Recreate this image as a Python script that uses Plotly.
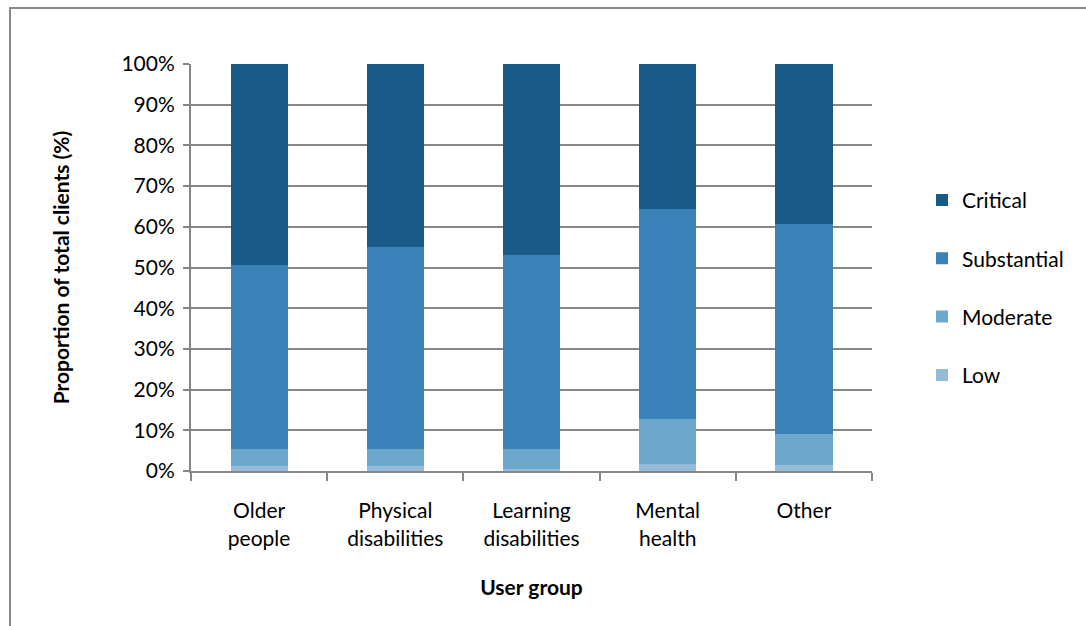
import plotly.graph_objects as go

categories = ["Older<br>people", "Physical<br>disabilities", "Learning<br>disabilities", "Mental<br>health", "Other"]
low = [1.2, 1.2, 0.6, 1.6, 1.4]
moderate = [4.1, 4.1, 4.7, 11.3, 7.8]
substantial = [45.4, 49.8, 47.8, 51.5, 51.5]
critical = [49.3, 44.9, 46.9, 35.6, 39.3]

series = [
    ("Low", low, "#95bbd6", 4),
    ("Moderate", moderate, "#6da7cc", 3),
    ("Substantial", substantial, "#3a82b7", 2),
    ("Critical", critical, "#1a5a88", 1),
]

FONT = "Lato"
FS = 21
fig = go.Figure()
for name, vals, col, rank in series:
    fig.add_trace(go.Bar(
        x=categories, y=[v / 100 for v in vals], name=name,
        marker=dict(color=col, line=dict(width=0)),
        legendgroup=name, legendrank=rank,
    ))

L, R, T, B = 191, 214, 64, 154.5
W, H = 1086, 626
pw = W - L - R
ph = H - T - B

fig.update_layout(
    width=W, height=H,
    barmode="stack", bargap=0.58,
    plot_bgcolor="white", paper_bgcolor="white",
    margin=dict(l=L, r=R, t=T, b=B, pad=0),
    font=dict(family=FONT, size=FS, color="#000000"),
    legend=dict(
        x=(922 - L) / pw, y=(471.5 - 180) / ph, xanchor="left", yanchor="top",
        traceorder="grouped", tracegroupgap=28,
        font=dict(family=FONT, size=FS), itemwidth=30,
        bgcolor="rgba(0,0,0,0)",
    ),
    xaxis=dict(
        showline=True, linecolor="#868686", linewidth=2,
        ticks="outside", ticklen=8, tickcolor="#868686", tickwidth=2,
        tickson="boundaries", ticklabelstandoff=20,
        title=dict(text="<b>User group</b>", font=dict(family=FONT, size=FS), standoff=32),
        tickfont=dict(family=FONT, size=FS),
    ),
    yaxis=dict(
        range=[0, 1], dtick=0.1, tickformat=".0%",
        showline=True, linecolor="#868686", linewidth=2,
        showgrid=True, gridcolor="#868686", gridwidth=2,
        ticks="outside", ticklen=6, tickcolor="#868686", tickwidth=2,
        ticklabelstandoff=4,
        title=dict(text="<b>Proportion of total clients (%)</b>", font=dict(family=FONT, size=FS), standoff=46),
        tickfont=dict(family=FONT, size=FS),
        zeroline=False,
    ),
)

# outer chart border
fig.add_shape(type="rect", xref="paper", yref="paper",
              x0=(10 - L) / pw, x1=(1095 - L) / pw,
              y0=(471.5 - 640) / ph, y1=(471.5 - 8) / ph,
              line=dict(color="#888888", width=2), fillcolor="rgba(0,0,0,0)", layer="below")

fig.write_html("out.html")
